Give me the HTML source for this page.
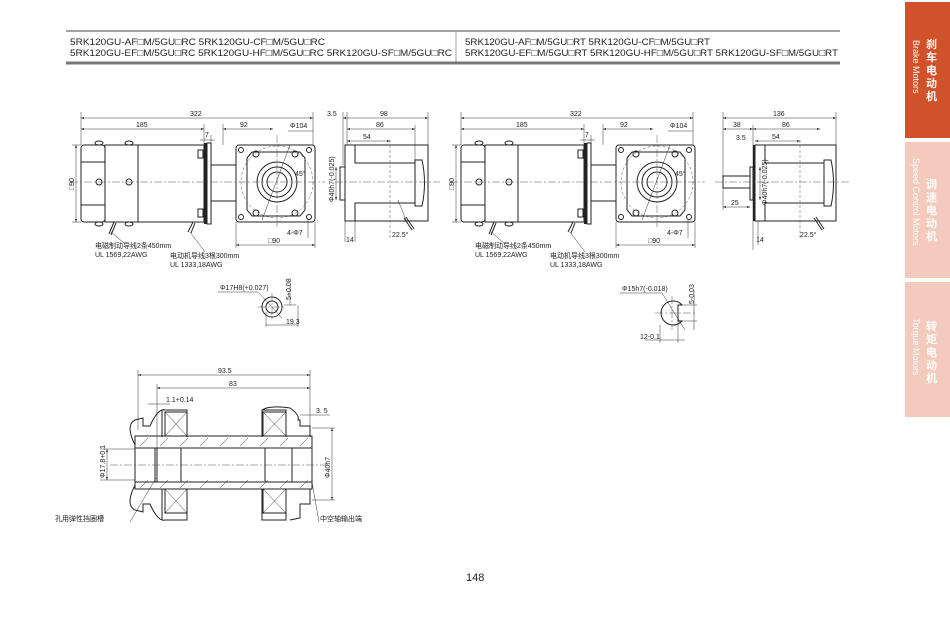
<!DOCTYPE html>
<html><head><meta charset="utf-8"><style>
html,body{margin:0;padding:0;background:#fff;width:950px;height:632px;overflow:hidden}
svg{position:absolute;left:0;top:0}
text{font-family:"Liberation Sans","DejaVu Sans","Noto Sans CJK SC",sans-serif;fill:#222}
.l{stroke:#222;stroke-width:1;fill:none}
.t{stroke:#333;stroke-width:0.5;fill:none}
.c{stroke:#555;stroke-width:0.5;fill:none;stroke-dasharray:8 2 2 2}
.d{stroke:#555;stroke-width:0.5;fill:none;stroke-dasharray:3 2}
.s{font-size:7px}
</style></head><body>
<svg width="950" height="632" viewBox="0 0 950 632">
<defs>
<marker id="a" viewBox="0 0 6 4" refX="6" refY="2" markerWidth="6" markerHeight="4" orient="auto-start-reverse"><path d="M0,0L6,2L0,4z" fill="#222"/></marker>
<g id="front">
 <line class="t" x1="81" y1="118" x2="313" y2="118" marker-start="url(#a)" marker-end="url(#a)"/>
 <text class="s" x="190" y="116">322</text>
 <line class="t" x1="81" y1="129" x2="204" y2="129" marker-start="url(#a)" marker-end="url(#a)"/>
 <text class="s" x="136" y="127">185</text>
 <line class="t" x1="223" y1="129" x2="273" y2="129" marker-start="url(#a)" marker-end="url(#a)"/>
 <text class="s" x="240" y="127">92</text>
 <line class="t" x1="81" y1="112" x2="81" y2="145"/><line class="t" x1="313" y1="112" x2="313" y2="145"/>
 <line class="t" x1="204" y1="124" x2="204" y2="148"/><line class="t" x1="211" y1="135" x2="211" y2="148"/>
 <line class="t" x1="200" y1="140" x2="215" y2="140"/><text class="s" x="205" y="137">7</text>
 <line class="t" x1="223" y1="124" x2="223" y2="145"/>
 <text class="s" x="290" y="128">Φ104</text>
 <line class="t" x1="288" y1="131" x2="313" y2="131"/>
 <line class="t" x1="76" y1="145" x2="76" y2="222" marker-start="url(#a)" marker-end="url(#a)"/>
 <line class="t" x1="72" y1="145" x2="81" y2="145"/><line class="t" x1="72" y1="222" x2="81" y2="222"/>
 <text class="s" transform="translate(74,190) rotate(-90)">□90</text>
 <rect class="l" x="81" y="145" width="24" height="77" rx="3"/>
 <line class="l" x1="81" y1="162" x2="105" y2="162"/><line class="l" x1="81" y1="205" x2="105" y2="205"/>
 <rect class="l" x="105" y="145" width="33" height="77"/>
 <rect class="l" x="138" y="145" width="66" height="77"/>
 <rect class="l" x="198" y="150" width="5" height="8"/><rect class="l" x="198" y="209" width="5" height="8"/>
 <rect x="204" y="143" width="3" height="81" fill="#222"/>
 <rect class="l" x="207" y="143" width="4" height="81"/>
 <rect class="l" x="211" y="165" width="25" height="36"/>
 <rect class="l" x="236" y="145" width="79" height="77" rx="3"/>
 <path class="l" d="M247,158 L252,152 L300,152 L305,158 L305,210 L300,216 L252,216 L247,210 Z"/>
 <circle class="l" cx="241" cy="150" r="2.5"/><circle class="l" cx="309" cy="150" r="2.5"/>
 <circle class="l" cx="241" cy="217" r="2.5"/><circle class="l" cx="309" cy="217" r="2.5"/>
 <circle class="l" cx="256" cy="154" r="3"/><circle class="l" cx="295" cy="154" r="3"/>
 <circle class="l" cx="256" cy="213" r="3"/><circle class="l" cx="295" cy="213" r="3"/>
 <circle class="l" cx="277" cy="182" r="20"/>
 <circle class="l" cx="277" cy="182" r="15" stroke-width="2"/>
 <circle class="l" cx="277" cy="182" r="10"/>
 <circle class="d" cx="277" cy="182" r="36"/>
 <circle class="l" cx="99" cy="182" r="3"/><circle class="l" cx="129" cy="182" r="3"/>
 <ellipse class="l" cx="99" cy="143" rx="4" ry="2"/><ellipse class="l" cx="129" cy="143" rx="4" ry="2"/>
 <ellipse class="l" cx="99" cy="224" rx="4" ry="2"/><ellipse class="l" cx="129" cy="224" rx="4" ry="2"/>
 <line class="c" x1="70" y1="182" x2="325" y2="182"/>
 <line class="c" x1="277" y1="135" x2="277" y2="228"/>
 <line class="t" x1="262" y1="220" x2="290" y2="145"/>
 <text class="s" x="295" y="176">45°</text>
 <path class="l" d="M114,222 l-5,12 M116,223 l-5,12" stroke-width="1.5"/>
 <line class="t" x1="111" y1="232" x2="125" y2="244"/>
 <path class="l" d="M193,222 l-5,10 M195,223 l-4,10" stroke-width="1.5"/>
 <line class="t" x1="190" y1="232" x2="205" y2="252"/>
 <line class="t" x1="236" y1="222" x2="236" y2="248"/><line class="t" x1="315" y1="222" x2="315" y2="248"/>
 <line class="t" x1="236" y1="245" x2="315" y2="245" marker-start="url(#a)" marker-end="url(#a)"/>
 <text class="s" x="268" y="243">□90</text>
 <text class="s" x="287" y="235">4-Φ7</text>
 <line class="t" x1="308" y1="220" x2="308" y2="238"/>
 <text class="s" x="95" y="248">电磁制动导线2条450mm</text>
 <text class="s" x="95" y="257">UL 1569,22AWG</text>
 <text class="s" x="170" y="258">电动机导线3根300mm</text>
 <text class="s" x="170" y="267">UL 1333,18AWG</text>
</g>
</defs>

<line x1="66" y1="31" x2="840" y2="31" stroke="#444" stroke-width="1"/>
<line x1="66" y1="63" x2="840" y2="63" stroke="#777" stroke-width="3"/>
<line x1="456" y1="32" x2="456" y2="62" stroke="#777" stroke-width="0.7"/>
<g font-size="9.5">
<text x="70" y="45" textLength="255" lengthAdjust="spacingAndGlyphs">5RK120GU-AF□M/5GU□RC  5RK120GU-CF□M/5GU□RC</text>
<text x="70" y="56" textLength="382" lengthAdjust="spacingAndGlyphs">5RK120GU-EF□M/5GU□RC  5RK120GU-HF□M/5GU□RC   5RK120GU-SF□M/5GU□RC</text>
<text x="465" y="45" textLength="245" lengthAdjust="spacingAndGlyphs">5RK120GU-AF□M/5GU□RT  5RK120GU-CF□M/5GU□RT</text>
<text x="465" y="56" textLength="373" lengthAdjust="spacingAndGlyphs">5RK120GU-EF□M/5GU□RT  5RK120GU-HF□M/5GU□RT   5RK120GU-SF□M/5GU□RT</text>
</g>

<use href="#front"/>
<use href="#front" transform="translate(380,0)"/>

<g>
 <line class="t" x1="343" y1="118" x2="428" y2="118" marker-start="url(#a)" marker-end="url(#a)"/>
 <text class="s" x="380" y="116">98</text><text class="s" x="327" y="116">3.5</text>
 <line class="t" x1="347" y1="129" x2="415" y2="129" marker-start="url(#a)" marker-end="url(#a)"/>
 <text class="s" x="376" y="127">86</text>
 <line class="t" x1="347" y1="141" x2="390" y2="141" marker-start="url(#a)" marker-end="url(#a)"/>
 <text class="s" x="363" y="139">54</text>
 <line class="t" x1="343" y1="112" x2="343" y2="165"/><line class="t" x1="347" y1="112" x2="347" y2="145"/>
 <line class="t" x1="428" y1="112" x2="428" y2="145"/><line class="t" x1="415" y1="125" x2="415" y2="160"/>
 <rect class="l" x="345" y="145" width="83" height="76"/>
 <path class="l" d="M355,145V163H415 M355,221V203H415"/>
 <rect class="l" x="340" y="167" width="5" height="33"/>
 <path class="l" d="M415,160h7q5,23 0,46h-7z"/>
 <line class="c" x1="335" y1="182" x2="440" y2="182"/>
 <line class="d" x1="390" y1="140" x2="390" y2="240"/>
 <line class="t" x1="336" y1="167" x2="336" y2="200" marker-start="url(#a)" marker-end="url(#a)"/>
 <text class="s" transform="translate(334,202) rotate(-90)">Φ40h7(-0.025)</text>
 <line class="t" x1="345" y1="221" x2="345" y2="242"/><line class="t" x1="355" y1="221" x2="355" y2="242"/>
 <text class="s" x="346" y="242">14</text>
 <path class="l" d="M404,218 l8,12 M406,217 l8,12" stroke-width="1.5"/>
 <line class="t" x1="398" y1="200" x2="406" y2="220"/>
 <text class="s" x="392" y="237">22.5°</text>
</g>

<g>
 <line class="t" x1="723" y1="118" x2="836" y2="118" marker-start="url(#a)" marker-end="url(#a)"/>
 <text class="s" x="773" y="116">136</text>
 <line class="t" x1="723" y1="129" x2="753" y2="129" marker-start="url(#a)" marker-end="url(#a)"/>
 <text class="s" x="733" y="127">38</text>
 <line class="t" x1="753" y1="129" x2="820" y2="129" marker-start="url(#a)" marker-end="url(#a)"/>
 <text class="s" x="782" y="127">86</text>
 <text class="s" x="736" y="140">3.5</text>
 <line class="t" x1="755" y1="141" x2="800" y2="141" marker-start="url(#a)" marker-end="url(#a)"/>
 <text class="s" x="772" y="139">54</text>
 <line class="t" x1="723" y1="112" x2="723" y2="210"/><line class="t" x1="836" y1="112" x2="836" y2="145"/>
 <line class="t" x1="753" y1="125" x2="753" y2="250"/>
 <rect class="l" x="755" y="145" width="81" height="76"/>
 <rect x="753" y="145" width="2" height="76" fill="#222"/>
 <path class="l" d="M765,145V163H824 M765,221V203H824"/>
 <rect class="l" x="750" y="167" width="3" height="33"/>
 <path class="l" d="M824,160h7q5,23 0,46h-7z"/>
 <rect class="l" x="723" y="176" width="27" height="12"/>
 <line class="c" x1="715" y1="182" x2="850" y2="182"/>
 <line class="d" x1="800" y1="140" x2="800" y2="240"/>
 <line class="t" x1="760" y1="167" x2="760" y2="200" marker-start="url(#a)" marker-end="url(#a)"/>
 <text class="s" transform="translate(767,205) rotate(-90)">Φ40h7(-0.025)</text>
 <line class="t" x1="723" y1="207" x2="750" y2="207" marker-start="url(#a)" marker-end="url(#a)"/>
 <text class="s" x="731" y="205">25</text>
 <line class="t" x1="758" y1="221" x2="758" y2="245"/>
 <text class="s" x="756" y="242">14</text>
 <path class="l" d="M814,218 l8,12 M816,217 l8,12" stroke-width="1.5"/>
 <text class="s" x="800" y="237">22.5°</text>
</g>

<g>
 <text class="s" x="220" y="290">Φ17H8(+0.027)</text>
 <line class="t" x1="218" y1="292" x2="258" y2="292"/><line class="t" x1="258" y1="292" x2="282" y2="318"/>
 <circle class="l" cx="272" cy="307" r="10"/><circle class="l" cx="272" cy="307" r="6"/>
 <line class="c" x1="258" y1="307" x2="286" y2="307"/><line class="c" x1="272" y1="293" x2="272" y2="321"/>
 <line class="t" x1="284" y1="305" x2="296" y2="305"/><line class="t" x1="290" y1="285" x2="290" y2="305"/>
 <text class="s" transform="translate(291,300) rotate(-90)">5+0.08</text>
 <line class="t" x1="266" y1="312" x2="266" y2="327"/><line class="t" x1="298" y1="305" x2="298" y2="327"/>
 <line class="t" x1="266" y1="325" x2="298" y2="325"/>
 <text class="s" x="286" y="324">19.3</text>
</g>
<g>
 <text class="s" x="622" y="291">Φ15h7(-0.018)</text>
 <line class="t" x1="620" y1="293" x2="662" y2="293"/><line class="t" x1="662" y1="293" x2="685" y2="330"/>
 <path class="l" d="M682,305 A12,12 0 1 0 682,321 L678,321 L678,305 Z"/>
 <line class="c" x1="655" y1="313" x2="695" y2="313"/><line class="c" x1="672" y1="296" x2="672" y2="330"/>
 <line class="t" x1="682" y1="305" x2="697" y2="305"/><line class="t" x1="682" y1="321" x2="697" y2="321"/>
 <line class="t" x1="694" y1="290" x2="694" y2="330"/>
 <text class="s" transform="translate(694,304) rotate(-90)">5-0.03</text>
 <line class="t" x1="660" y1="325" x2="660" y2="343"/><line class="t" x1="678" y1="321" x2="678" y2="343"/>
 <line class="t" x1="645" y1="340" x2="685" y2="340"/>
 <text class="s" x="640" y="339">12-0.1</text>
</g>

<g>
 <line class="t" x1="138" y1="375" x2="310" y2="375" marker-start="url(#a)" marker-end="url(#a)"/>
 <text class="s" x="218" y="373">93.5</text>
 <line class="t" x1="157" y1="388" x2="310" y2="388" marker-start="url(#a)" marker-end="url(#a)"/>
 <text class="s" x="229" y="386">83</text>
 <line class="t" x1="138" y1="370" x2="138" y2="430"/><line class="t" x1="157" y1="384" x2="157" y2="480"/>
 <line class="t" x1="310" y1="370" x2="310" y2="430"/>
 <line class="t" x1="148" y1="404" x2="170" y2="404"/><text class="s" x="166" y="402">1.1+0.14</text>
 <line class="t" x1="300" y1="415" x2="330" y2="415"/><text class="s" x="316" y="413">3. 5</text>
 <path class="l" d="M135,445 Q125,425 135,420 L143,418 L143,426 L150,426 Q158,408 165,410 L187,410 M187,437 L187,410 L162,410 L162,437 M262,410 L286,410 L286,437 M262,437 L262,410 Q270,405 290,408 Q300,415 298,420 L300,420 L300,426 L310,426 L310,437"/>
 <path class="l" d="M135,485 Q125,505 135,510 L143,512 L143,504 L150,504 Q158,522 165,520 L187,520 L187,489 M162,489 L162,520 M262,489 L262,520 L286,520 L286,489 M290,520 L300,518 L300,504 L310,504 L310,489"/>
 <rect class="l" x="165" y="412" width="22" height="24"/><path class="t" d="M165,412L187,436M187,412L165,436"/>
 <rect class="l" x="263" y="412" width="23" height="24"/><path class="t" d="M263,412L286,436M286,412L263,436"/>
 <rect class="l" x="165" y="489" width="22" height="24"/><path class="t" d="M165,489L187,513M187,489L165,513"/>
 <rect class="l" x="263" y="489" width="23" height="24"/><path class="t" d="M263,489L286,513M286,489L263,513"/>
 <rect class="l" x="135" y="436" width="177" height="53"/>
 <rect class="l" x="135" y="448" width="177" height="34"/>
 <rect class="l" x="181" y="448" width="84" height="34"/>
 <path class="t" d="M140,446l8,-8M160,446l8,-8M180,446l8,-8M200,446l8,-8M220,446l8,-8M240,446l8,-8M260,446l8,-8M280,446l8,-8M300,446l8,-8M140,488l8,-8M160,488l8,-8M180,488l8,-8M200,488l8,-8M220,488l8,-8M240,488l8,-8M260,488l8,-8M280,488l8,-8M300,488l8,-8"/>
 <line class="l" x1="155" y1="448" x2="155" y2="482"/><line class="l" x1="157" y1="448" x2="157" y2="482"/>
 <line class="l" x1="292" y1="448" x2="292" y2="482"/>
 <line class="c" x1="110" y1="465" x2="330" y2="465"/>
 <line class="t" x1="100" y1="449" x2="135" y2="449"/><line class="t" x1="100" y1="480" x2="135" y2="480"/>
 <line class="t" x1="107" y1="449" x2="107" y2="480" marker-start="url(#a)" marker-end="url(#a)"/>
 <text class="s" transform="translate(105,478) rotate(-90)">Φ17.8+0.1</text>
 <line class="t" x1="312" y1="428" x2="335" y2="428"/><line class="t" x1="312" y1="500" x2="335" y2="500"/>
 <line class="t" x1="332" y1="428" x2="332" y2="500" marker-start="url(#a)" marker-end="url(#a)"/>
 <text class="s" transform="translate(330,478) rotate(-90)">Φ40h7</text>
 <line class="t" x1="130" y1="522" x2="156" y2="478"/>
 <line class="t" x1="319" y1="522" x2="312" y2="482"/>
 <text class="s" x="55" y="521">孔用弹性挡圈槽</text>
 <text class="s" x="320" y="521">中空轴输出端</text>
</g>

<text x="466" y="581" font-size="11">148</text>

<rect x="905" y="2" width="45" height="136" fill="#d0522a"/>
<rect x="905" y="142" width="45" height="136" fill="#f3cabb"/>
<rect x="905" y="282" width="45" height="135" fill="#f3cabb"/>
<g font-size="11" font-weight="bold">
<text x="926" y="48" style="fill:#fff">刹</text><text x="926" y="61" style="fill:#fff">车</text><text x="926" y="74" style="fill:#fff">电</text><text x="926" y="87" style="fill:#fff">动</text><text x="926" y="100" style="fill:#fff">机</text>
<text x="926" y="188" style="fill:#fff">调</text><text x="926" y="201" style="fill:#fff">速</text><text x="926" y="214" style="fill:#fff">电</text><text x="926" y="227" style="fill:#fff">动</text><text x="926" y="240" style="fill:#fff">机</text>
<text x="926" y="330" style="fill:#fff">转</text><text x="926" y="343" style="fill:#fff">矩</text><text x="926" y="356" style="fill:#fff">电</text><text x="926" y="369" style="fill:#fff">动</text><text x="926" y="382" style="fill:#fff">机</text>
</g>
<g font-size="9">
<text transform="translate(913,40) rotate(90)" style="fill:#fff">Brake Motors</text>
<text transform="translate(913,158) rotate(90)" style="fill:#fff">Speed Control Motors</text>
<text transform="translate(913,318) rotate(90)" style="fill:#fff">Torque Motors</text>
</g>
</svg>
</body></html>
